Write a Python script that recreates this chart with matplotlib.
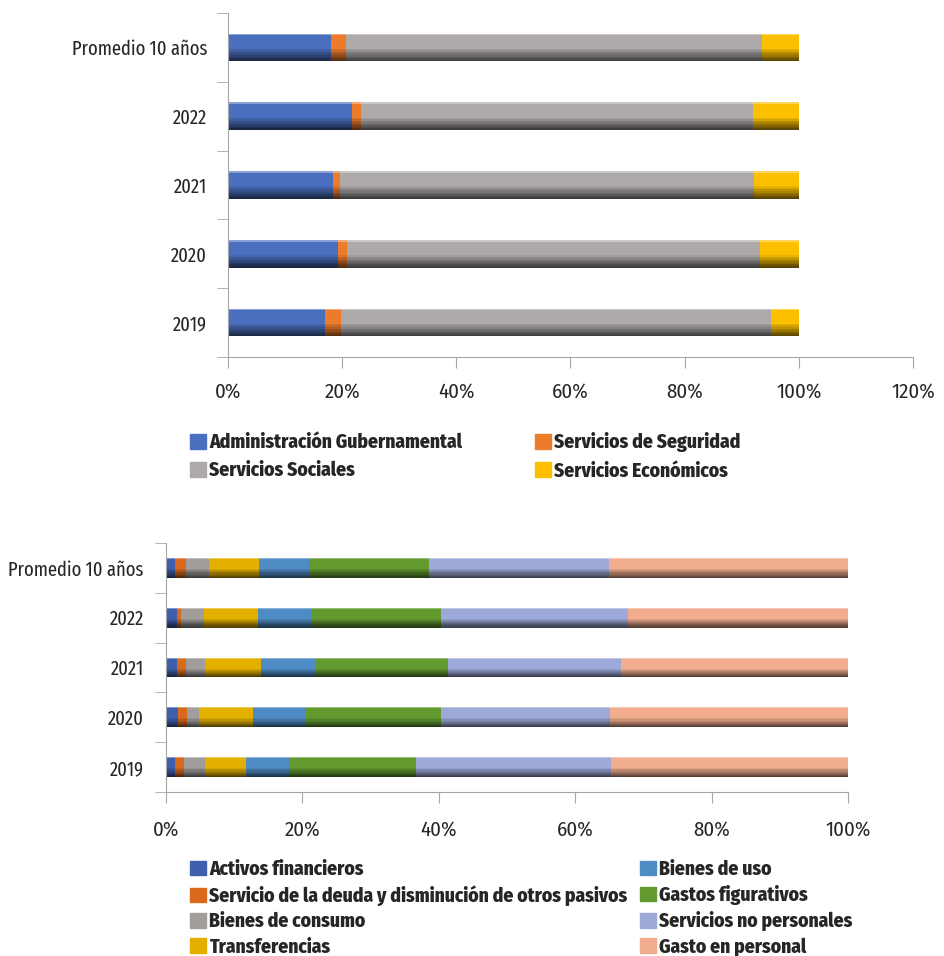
import matplotlib
matplotlib.use("Agg")
import matplotlib.pyplot as plt
from matplotlib.patches import Patch
from matplotlib.ticker import PercentFormatter

plt.rcParams['font.family'] = ['Fira Sans Condensed', 'DejaVu Sans']

# Gráfico 1: por finalidad (proporciones)
categorias = ["Promedio 10 años", "2022", "2021", "2020", "2019"]
adm_gub = [0.181, 0.217, 0.184, 0.192, 0.170]
seguridad = [0.026, 0.016, 0.013, 0.016, 0.028]
sociales = [0.729, 0.687, 0.725, 0.724, 0.754]
economicos = [0.064, 0.080, 0.078, 0.068, 0.048]

series1 = [adm_gub, seguridad, sociales, economicos]
nombres1 = ["Administración Gubernamental", "Servicios de Seguridad",
            "Servicios Sociales", "Servicios Económicos"]
colores1 = ["#4a6fbe", "#ec7b2c", "#aeaaaa", "#fcc000"]

# Gráfico 2: por objeto del gasto
activos = [0.013, 0.016, 0.016, 0.017, 0.013]
deuda = [0.017, 0.006, 0.013, 0.014, 0.013]
consumo = [0.033, 0.034, 0.028, 0.017, 0.031]
transferencias = [0.073, 0.079, 0.082, 0.079, 0.061]
bienes_uso = [0.073, 0.078, 0.079, 0.078, 0.062]
figurativos = [0.176, 0.190, 0.195, 0.198, 0.186]
no_personales = [0.265, 0.274, 0.254, 0.248, 0.286]
personal = [0.350, 0.323, 0.333, 0.349, 0.348]

series2 = [activos, deuda, consumo, transferencias, bienes_uso,
           figurativos, no_personales, personal]
nombres2 = ["Activos financieros", "Servicio de la deuda y disminución de otros pasivos",
            "Bienes de consumo", "Transferencias", "Bienes de uso", "Gastos figurativos",
            "Servicios no personales", "Gasto en personal"]
colores2 = ["#3e5eae", "#d96a1b", "#a09d9a", "#e3b000", "#4f8bc4",
            "#629a2f", "#9daad8", "#f2ad8f"]

txt = "#262626"
eje = "#a6a6a6"


def barras(ax, series, colores, ypad, xpad, h=0.4):
    pos = list(range(len(categorias) - 1, -1, -1))
    izq = [0.0] * len(categorias)
    for vals, col in zip(series, colores):
        ax.barh(pos, vals, left=izq, height=h, color=col, linewidth=0)
        # sombreado inferior tipo degradado
        n = 8
        dh = h * 0.45 / n
        for k in range(n):
            y = [p - h / 2 + k * dh + dh / 2 for p in pos]
            ax.barh(y, vals, left=izq, height=dh, color="black",
                    alpha=0.08 * (n - k), linewidth=0)
        # brillo superior
        y = [p + h / 2 - dh / 2 for p in pos]
        ax.barh(y, vals, left=izq, height=dh, color="white", alpha=0.35, linewidth=0)
        izq = [a + b for a, b in zip(izq, vals)]
    ax.set_ylim(-0.5, len(categorias) - 0.5)
    ax.set_yticks(pos)
    ax.set_yticklabels(categorias, family=['Fira Sans Extra Condensed', 'DejaVu Sans'])
    ax.set_yticks([p - 0.5 for p in range(len(categorias) + 1)], minor=True)
    ax.tick_params(axis="y", which="major", length=0, pad=ypad, labelsize=14.5, labelcolor=txt)
    ax.tick_params(axis="y", which="minor", length=8, color=eje)
    ax.tick_params(axis="x", length=8, color=eje, pad=xpad, labelsize=15, labelcolor=txt)
    ax.xaxis.set_major_formatter(PercentFormatter(1.0, decimals=0))
    for s in ["top", "right"]:
        ax.spines[s].set_visible(False)
    for s in ["left", "bottom"]:
        ax.spines[s].set_color(eje)


def leyenda(handles, x, y, esp):
    fig.legend(handles=handles, loc="upper left", bbox_to_anchor=(x, y),
               frameon=False, prop={"size": 14, "weight": "heavy"}, labelcolor=txt,
               handlelength=0.8, handleheight=0.8, handletextpad=0.2,
               labelspacing=esp, borderpad=0, borderaxespad=0)


fig = plt.figure(figsize=(9.44, 9.56), dpi=100)

ax1 = fig.add_axes([0.2415, 0.6266, 0.7256, 0.3598])
barras(ax1, series1, colores1, ypad=15, xpad=10)
ax1.set_xlim(0, 1.2)
ax1.set_xticks([0, 0.2, 0.4, 0.6, 0.8, 1.0, 1.2])

ax2 = fig.add_axes([0.1758, 0.1715, 0.7225, 0.2605])
barras(ax2, series2, colores2, ypad=16, xpad=12)
ax2.set_xlim(0, 1.0)
ax2.set_xticks([0, 0.2, 0.4, 0.6, 0.8, 1.0])

h1 = [Patch(color=c, label=n) for c, n in zip(colores1, nombres1)]
leyenda([h1[0], h1[2]], 190 / 944, 0.5475, 0.45)
leyenda([h1[1], h1[3]], 535 / 944, 0.5475, 0.45)

h2 = [Patch(color=c, label=n) for c, n in zip(colores2, nombres2)]
leyenda(h2[:4], 190 / 944, 0.101, 0.31)
leyenda(h2[4:], 640 / 944, 0.101, 0.31)

fig.savefig("out.png", dpi=100)
